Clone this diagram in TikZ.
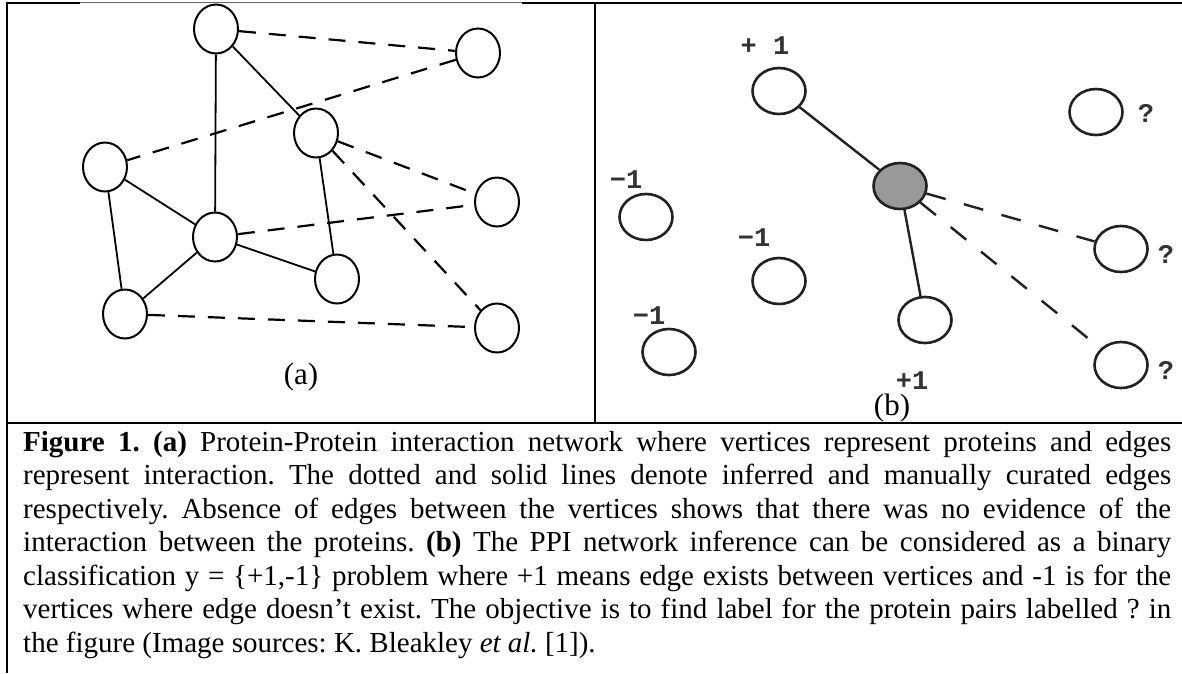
\documentclass[tikz,border=0pt]{standalone}
\usepackage{fontspec}
\setmainfont{Liberation Serif}
\newfontfamily\labelfont{Liberation Mono}
\usetikzlibrary{shapes.geometric}
\begin{document}
\frenchspacing
\begin{tikzpicture}[x=1pt,y=-1pt,
  frame/.style={line width=2pt, black},
  thinframe/.style={line width=1pt, black!60},
  anode/.style={ellipse, draw=black, line width=2pt, minimum width=44pt, minimum height=49pt, inner sep=0pt, fill=white},
  bnode/.style={ellipse, draw=black!87, line width=2.6pt, minimum width=53pt, minimum height=46pt, inner sep=0pt, fill=white},
  hub/.style={bnode, fill=black!40},
  solidA/.style={line width=1.8pt, black},
  dashA/.style={line width=2.2pt, black, dash pattern=on 17pt off 13pt},
  solidB/.style={line width=2.4pt, draw=black!87},
  dashB/.style={line width=2.4pt, draw=black!87, dash pattern=on 20pt off 19pt},
  lbl/.style={font=\labelfont\bfseries\fontsize{27}{27}\selectfont, text=black!80, inner sep=0pt},
  panel/.style={font=\fontsize{31}{31}\selectfont, inner sep=0pt},
  capline/.style={anchor=base west, inner sep=0pt, font=\fontsize{29}{33.5}\selectfont}
]
\useasboundingbox (0,0) rectangle (1182,673);
% frame
\draw[frame] (7,2) -- (7,673);
\draw[frame] (6,3) -- (80,3);
\draw[thinframe] (80,2.7) -- (522,2.7);
\draw[frame] (522,3) -- (1182,3);
\draw[frame] (595,3) -- (595,423);
\draw[frame] (6,423) -- (1182,423);

% panel (a) nodes
\node[anode] (a1) at (216,29) {};
\node[anode] (a2) at (478,53) {};
\node[anode] (a3) at (316,133) {};
\node[anode] (a4) at (105,167) {};
\node[anode] (a5) at (215,237) {};
\node[anode] (a6) at (497,202) {};
\node[anode] (a7) at (337,279) {};
\node[anode] (a8) at (125,314) {};
\node[anode] (a9) at (497,328) {};
% panel (a) edges
\draw[solidA] (a1) -- (a5);
\draw[solidA] (a1) -- (a3);
\draw[solidA] (a4) -- (a5);
\draw[solidA] (a4) -- (a8);
\draw[solidA] (a8) -- (a5);
\draw[solidA] (a5) -- (a7);
\draw[solidA] (a3) -- (a7);
\draw[dashA] (a1) -- (a2);
\draw[dashA] (a2) -- (a4);
\draw[dashA] (a3) -- (a6);
\draw[dashA] (a3) -- (a9);
\draw[dashA] (a5) -- (a6);
\draw[dashA] (a8) -- (a9);
\node[panel] (la) at (301,377) {(a)};

% panel (b) nodes
\node[bnode] (b1) at (779,91) {};
\node[bnode] (b2) at (1096,112) {};
\node[hub] (hub) at (900,186) {};
\node[bnode] (b3) at (646,217) {};
\node[bnode] (b4) at (779,281) {};
\node[bnode] (b5) at (669,352) {};
\node[bnode] (b6) at (925,320) {};
\node[bnode] (b7) at (1121,249) {};
\node[bnode] (b8) at (1121,365) {};
% panel (b) edges
\draw[solidB] (b1) -- (hub);
\draw[solidB] (hub) -- (b6);
\draw[dashB] (hub) -- (b7);
\draw[dashB] (hub) -- (b8);
% panel (b) labels
\node[lbl] (l1) at (765,46) {+ 1};
\node[lbl] (l2) at (626,180) {−1};
\node[lbl] (l3) at (754,238) {−1};
\node[lbl] (l4) at (649,316) {−1};
\node[lbl] (l5) at (912,381) {+1};
\node[lbl] (q1) at (1146,113) {?};
\node[lbl] (q2) at (1166,254) {?};
\node[lbl] (q3) at (1166,370) {?};
\node[panel] (lb) at (892,408) {(b)};

% caption
\node[capline] (c1) at (23,451) {\makebox[1148pt][s]{\textbf{Figure 1.} \textbf{(a)} Protein-Protein interaction network where vertices represent proteins and edges}};
\node[capline] (c2) at (23,484.5) {\makebox[1148pt][s]{represent interaction. The dotted and solid lines denote inferred and manually curated edges}};
\node[capline] (c3) at (23,518) {\makebox[1148pt][s]{respectively. Absence of edges between the vertices shows that there was no evidence of the}};
\node[capline] (c4) at (23,551.5) {\makebox[1148pt][s]{interaction between the proteins. \textbf{(b)} The PPI network inference can be considered as a binary}};
\node[capline] (c5) at (23,585) {\makebox[1148pt][s]{classification y = \{+1,-1\} problem where +1 means edge exists between vertices and -1 is for the}};
\node[capline] (c6) at (23,618.5) {\makebox[1148pt][s]{vertices where edge doesn’t exist. The objective is to find label for the protein pairs labelled ? in}};
\node[capline] (c7) at (23,652) {the figure (Image sources: K. Bleakley \textit{et al.} [1]).};
\end{tikzpicture}
\end{document}
